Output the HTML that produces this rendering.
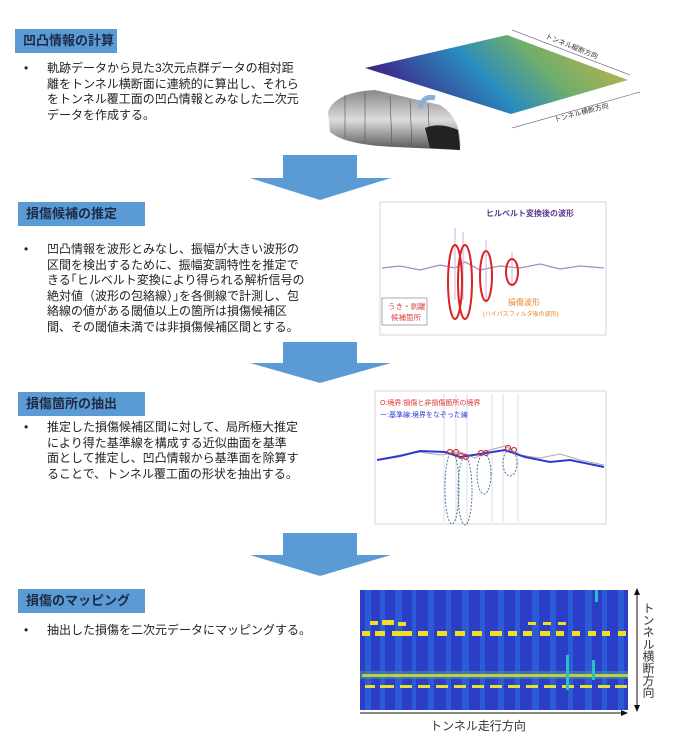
<!DOCTYPE html>
<html><head><meta charset="utf-8"><style>
body{margin:0;background:#fff;width:675px;height:743px;position:relative;overflow:hidden;font-family:"Liberation Sans","Noto Sans CJK JP",sans-serif;}
.h{position:absolute;background:#5b9bd5;color:#1f2a44;font-size:13px;font-weight:bold;line-height:24px;padding-left:8px;box-sizing:border-box;height:24px;white-space:nowrap;}
.t{position:absolute;left:47px;font-size:12px;line-height:15.6px;color:#222;white-space:nowrap;}
.b{position:absolute;left:24px;font-size:12px;color:#222;}
.ar{position:absolute;}
</style></head><body>
<div class="h" style="left:15px;top:29px;width:102px">凹凸情報の計算</div>
<div class="b" style="top:61px">•</div>
<div class="t" style="top:61px">軌跡データから見た3次元点群データの相対距<br>離をトンネル横断面に連続的に算出し、それら<br>をトンネル覆工面の凹凸情報とみなした二次元<br>データを作成する。</div>

<svg class="ar" style="left:0;top:0" width="675" height="743">
<defs>
<linearGradient id="g1" x1="0" y1="0.3" x2="1" y2="0"><stop offset="0" stop-color="#3b2a8a"/><stop offset="0.35" stop-color="#2a8cbf"/><stop offset="0.6" stop-color="#6fae6a"/><stop offset="1" stop-color="#d8b440"/></linearGradient>
<linearGradient id="tn" x1="0" y1="0" x2="0" y2="1"><stop offset="0" stop-color="#888"/><stop offset="0.5" stop-color="#ddd"/><stop offset="1" stop-color="#555"/></linearGradient>
</defs>
<!-- plane -->
<polygon points="365,68 507,35 628,80 511,114" fill="url(#g1)"/>
<line x1="512" y1="30" x2="630" y2="75" stroke="#446" stroke-width="0.6"/>
<text x="545" y="38" font-size="7" fill="#333" transform="rotate(22 545 38)">トンネル縦断方向</text>
<line x1="512" y1="128" x2="640" y2="92" stroke="#446" stroke-width="0.6"/>
<text x="555" y="122" font-size="7" fill="#333" transform="rotate(-15 555 122)">トンネル横断方向</text>
<!-- tunnel -->
<path d="M328,112 Q335,92 375,90 L440,105 Q462,118 460,150 L395,147 Q345,145 330,132 Z" fill="url(#tn)"/>
<g stroke="#555" stroke-width="0.6"><line x1="345" y1="95" x2="345" y2="138"/><line x1="365" y1="92" x2="365" y2="143"/><line x1="390" y1="96" x2="392" y2="146"/><line x1="410" y1="100" x2="412" y2="147"/><line x1="428" y1="104" x2="430" y2="148"/></g>
<path d="M425,128 Q440,122 458,130 L460,150 L430,148 Z" fill="#222"/>
<path d="M420,108 Q423,95 435,98" stroke="#8ab0d8" stroke-width="5" fill="none"/>
<!-- arrows -->
<polygon points="283,155 357,155 357,178 391,178 320,200 250,178 283,178" fill="#5b9bd5"/>
<polygon points="283,342 357,342 357,363 391,363 320,383 250,363 283,363" fill="#5b9bd5"/>
<polygon points="283,533 357,533 357,555 391,555 320,576 250,555 283,555" fill="#5b9bd5"/>

<!-- graph 2 -->
<rect x="380" y="202" width="226" height="133" fill="#fff" stroke="#ccc" stroke-width="0.8"/>
<polyline points="382,268 400,266 420,270 440,265 455,268 465,262 480,270 500,266 520,268 540,264 560,269 580,266 604,268" stroke="#a08cc8" stroke-width="1.2" fill="none"/>
<line x1="455" y1="228" x2="455" y2="300" stroke="#c9b0d8"/><line x1="463" y1="232" x2="463" y2="300" stroke="#c9b0d8"/><line x1="486" y1="240" x2="486" y2="300" stroke="#c9b0d8"/><line x1="512" y1="252" x2="512" y2="285" stroke="#c9b0d8"/>
<ellipse cx="455" cy="282" rx="7" ry="37" fill="none" stroke="#d22" stroke-width="2"/>
<ellipse cx="465" cy="282" rx="7" ry="37" fill="none" stroke="#d22" stroke-width="2"/>
<ellipse cx="486" cy="276" rx="6" ry="25" fill="none" stroke="#d22" stroke-width="2"/>
<ellipse cx="512" cy="272" rx="6" ry="13" fill="none" stroke="#d22" stroke-width="2"/>
<text x="486" y="216" font-size="8" fill="#5a3a8a" font-weight="bold">ヒルベルト変換後の波形</text>
<rect x="382" y="298" width="45" height="27" fill="#fff" stroke="#aaa"/>
<text x="388" y="309" font-size="7.5" fill="#d44">うき・剥離</text>
<text x="391" y="320" font-size="7.5" fill="#d44">候補箇所</text>
<text x="508" y="305" font-size="8" fill="#e8822a">損傷波形</text>
<text x="483" y="316" font-size="6" fill="#e8822a">(ハイパスフィルタ後の波形)</text>

<!-- graph 3 -->
<rect x="375" y="391" width="231" height="133" fill="#fff" stroke="#ccc" stroke-width="0.8"/>
<g stroke="#cfd6e4" stroke-width="0.8"><line x1="444" y1="394" x2="444" y2="522"/><line x1="456" y1="394" x2="456" y2="522"/><line x1="467" y1="394" x2="467" y2="522"/><line x1="492" y1="394" x2="492" y2="522"/><line x1="503" y1="394" x2="503" y2="522"/><line x1="518" y1="394" x2="518" y2="522"/></g>
<polyline points="377,460 400,455 420,452 440,455 460,452 475,458 490,450 505,446 520,455 540,458 560,454 580,460 604,465" stroke="#aaa" stroke-width="1" fill="none"/>
<polyline points="377,460 400,456 420,451 445,452 460,457 480,454 505,450 525,457 550,462 570,460 604,467" stroke="#2a3bd4" stroke-width="2" fill="none"/>
<g fill="none" stroke="#d33" stroke-width="1.2"><circle cx="450" cy="452" r="2.5"/><circle cx="456" cy="452" r="2.5"/><circle cx="461" cy="456" r="2.5"/><circle cx="466" cy="457" r="2.5"/><circle cx="481" cy="453" r="2.5"/><circle cx="486" cy="453" r="2.5"/><circle cx="508" cy="448" r="2.5"/><circle cx="514" cy="450" r="2.5"/></g>
<g fill="none" stroke="#4a7a9a" stroke-dasharray="2,1.5"><ellipse cx="452" cy="488" rx="7" ry="36"/><ellipse cx="465" cy="491" rx="7" ry="34"/><ellipse cx="484" cy="474" rx="7" ry="20"/><ellipse cx="510" cy="463" rx="7" ry="13"/></g>
<text x="380" y="405" font-size="7" fill="#d33">O:境界:損傷と非損傷箇所の境界</text>
<text x="380" y="417" font-size="7" fill="#2a3bd4">ー:基準線:境界をなぞった線</text>

<!-- heatmap -->
<rect x="360" y="590" width="268" height="120" fill="#2a3ec8"/>
<g fill="#2f6fe0" opacity="0.6">
<rect x="365" y="590" width="6" height="120"/><rect x="380" y="590" width="5" height="120"/><rect x="395" y="590" width="7" height="120"/><rect x="412" y="590" width="4" height="120"/><rect x="428" y="590" width="6" height="120"/><rect x="446" y="590" width="5" height="120"/><rect x="462" y="590" width="7" height="120"/><rect x="480" y="590" width="5" height="120"/><rect x="498" y="590" width="6" height="120"/><rect x="515" y="590" width="5" height="120"/><rect x="532" y="590" width="7" height="120"/><rect x="550" y="590" width="6" height="120"/><rect x="568" y="590" width="5" height="120"/><rect x="585" y="590" width="7" height="120"/><rect x="602" y="590" width="5" height="120"/><rect x="618" y="590" width="6" height="120"/>
</g>
<rect x="360" y="671" width="268" height="8" fill="#3a8a9a" opacity="0.7"/>
<g fill="#f0e020">
<rect x="370" y="621" width="8" height="4"/><rect x="382" y="620" width="12" height="5"/><rect x="398" y="622" width="8" height="4"/><rect x="528" y="622" width="8" height="3"/><rect x="543" y="622" width="8" height="3"/><rect x="558" y="622" width="8" height="3"/>
</g>
<g fill="#f0e020">
<rect x="362" y="631" width="8" height="5"/><rect x="375" y="631" width="10" height="5"/><rect x="392" y="631" width="20" height="5"/><rect x="418" y="631" width="10" height="5"/><rect x="437" y="631" width="10" height="5"/><rect x="455" y="631" width="10" height="5"/><rect x="472" y="631" width="10" height="5"/><rect x="490" y="631" width="12" height="5"/><rect x="508" y="631" width="9" height="5"/><rect x="523" y="631" width="9" height="5"/><rect x="540" y="631" width="10" height="5"/><rect x="556" y="631" width="8" height="5"/><rect x="572" y="631" width="8" height="5"/><rect x="588" y="631" width="8" height="5"/><rect x="602" y="631" width="8" height="5"/><rect x="618" y="631" width="8" height="5"/>
</g>
<g fill="#e8e030">
<rect x="362" y="674" width="266" height="3" opacity="0.8"/>
<rect x="365" y="685" width="10" height="3"/><rect x="380" y="685" width="14" height="3"/><rect x="400" y="685" width="12" height="3"/><rect x="418" y="685" width="12" height="3"/><rect x="436" y="685" width="12" height="3"/><rect x="454" y="685" width="12" height="3"/><rect x="472" y="685" width="12" height="3"/><rect x="490" y="685" width="12" height="3"/><rect x="508" y="685" width="12" height="3"/><rect x="526" y="685" width="12" height="3"/><rect x="544" y="685" width="12" height="3"/><rect x="562" y="685" width="12" height="3"/><rect x="580" y="685" width="12" height="3"/><rect x="598" y="685" width="12" height="3"/><rect x="615" y="685" width="12" height="3"/>
</g>
<g fill="#2ac0c0"><rect x="566" y="655" width="3" height="35"/><rect x="592" y="660" width="3" height="20"/><rect x="595" y="590" width="3" height="12"/></g>
<!-- axes -->
<line x1="637" y1="592" x2="637" y2="708" stroke="#111"/>
<polygon points="637,588 634,595 640,595" fill="#111"/><polygon points="637,712 634,705 640,705" fill="#111"/>
<line x1="360" y1="713" x2="624" y2="713" stroke="#111"/>
<polygon points="628,713 621,710 621,716" fill="#111"/>
<text x="478" y="730" font-size="12" fill="#333" text-anchor="middle">トンネル走行方向</text>
<text x="648" y="650" font-size="12" fill="#333" text-anchor="middle" style="writing-mode:vertical-rl">トンネル横断方向</text>
</svg>

<div class="h" style="left:18px;top:202px;width:127px">損傷候補の推定</div>
<div class="b" style="top:242px">•</div>
<div class="t" style="top:242px">凹凸情報を波形とみなし、振幅が大きい波形の<br>区間を検出するために、振幅変調特性を推定で<br>きる｢ヒルベルト変換により得られる解析信号の<br>絶対値（波形の包絡線）｣を各側線で計測し、包<br>絡線の値がある閾値以上の箇所は損傷候補区<br>間、その閾値未満では非損傷候補区間とする。</div>

<div class="h" style="left:18px;top:392px;width:127px">損傷箇所の抽出</div>
<div class="b" style="top:420px">•</div>
<div class="t" style="top:420px">推定した損傷候補区間に対して、局所極大推定<br>により得た基準線を構成する近似曲面を基準<br>面として推定し、凹凸情報から基準面を除算す<br>ることで、トンネル覆工面の形状を抽出する。</div>

<div class="h" style="left:18px;top:589px;width:127px">損傷のマッピング</div>
<div class="b" style="top:623px">•</div>
<div class="t" style="top:623px">抽出した損傷を二次元データにマッピングする。</div>
</body></html>
